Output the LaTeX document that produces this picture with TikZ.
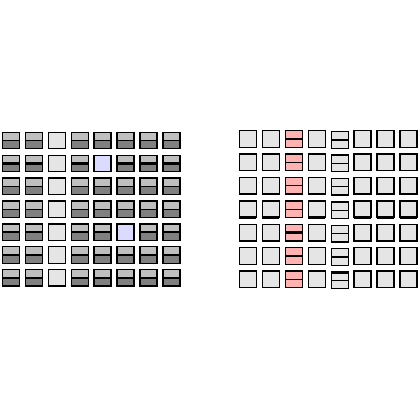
\documentclass[tikz,border=0pt]{standalone}
\begin{document}
\begin{tikzpicture}[x=0.75pt,y=-0.75pt]
\useasboundingbox (0,0) rectangle (420,420);
\tikzset{
  cell/.style={draw=black, line width=1pt, minimum width=12.75pt, minimum height=12.3pt, inner sep=0pt, outer sep=0pt},
  plaincell/.style={cell, fill=black!10},
  bluecell/.style={cell, fill=blue!14},
  pinkcell/.style={cell, fill=red!30},
  twotone/.style={cell, fill=black!50, path picture={\fill[black!25] (path picture bounding box.north west) rectangle (path picture bounding box.east);}},
  split/.style={draw=black, line width=1pt},
  thick split/.style={draw=black, line width=2.2pt}
}
% ---------- left grid ----------
\foreach \c/\rows in {0/{0,1,2,3,4,5,6},1/{0,1,2,3,4,5,6},3/{0,1,2,3,4,5,6},4/{0,2,3,4,5,6},5/{0,1,2,3,5,6},6/{0,1,2,3,4,5,6},7/{0,1,2,3,4,5,6}}{
  \foreach \r in \rows {
    \node[twotone] (L\r\c) at (10.8+22.96*\c, 140.5+22.9*\r) {};
    \draw[split] (L\r\c.west) -- (L\r\c.east);
  }
}
\foreach \r in {0,...,6} \node[plaincell] (L\r2) at (10.8+22.96*2, 140.5+22.9*\r) {};
\node[bluecell] (L14) at (10.8+22.96*4, 140.5+22.9*1) {};
\node[bluecell] (L45) at (10.8+22.96*5, 140.5+22.9*4) {};
\foreach \c in {0,1,3,5,6,7} \draw[thick split] (L1\c.west) -- (L1\c.east);
\foreach \r in {0,...,6} \draw[line width=2pt] (L\r6.north east) -- (L\r6.south east);
% ---------- right grid ----------
\foreach \c in {0,1,3,5,6,7}{
  \foreach \r in {0,...,6} \node[plaincell, minimum height=12.4pt] (R\r\c) at (247.9+22.95*\c, 139+23.4*\r) {};
}
\foreach \r in {0,...,6}{
  \node[pinkcell, minimum height=12.4pt] (R\r2) at (247.9+22.95*2, 139+23.4*\r) {};
  \draw[split] (R\r2.west) -- (R\r2.east);
  \node[plaincell, minimum height=12.4pt] (R\r4) at (247.9+22.95*4, 140+23.4*\r) {};
  \draw[split] (R\r4.west) -- (R\r4.east);
}
\foreach \c in {0,1,3,5,6,7} \draw[line width=2.2pt] (R3\c.south west) -- (R3\c.south east);
\draw[thick split] (R42.west) -- (R42.east);
\draw[thick split] (R54.west) -- (R54.east);
\draw[line width=2.2pt] (R64.north west) -- (R64.north east);
\end{tikzpicture}
\end{document}
